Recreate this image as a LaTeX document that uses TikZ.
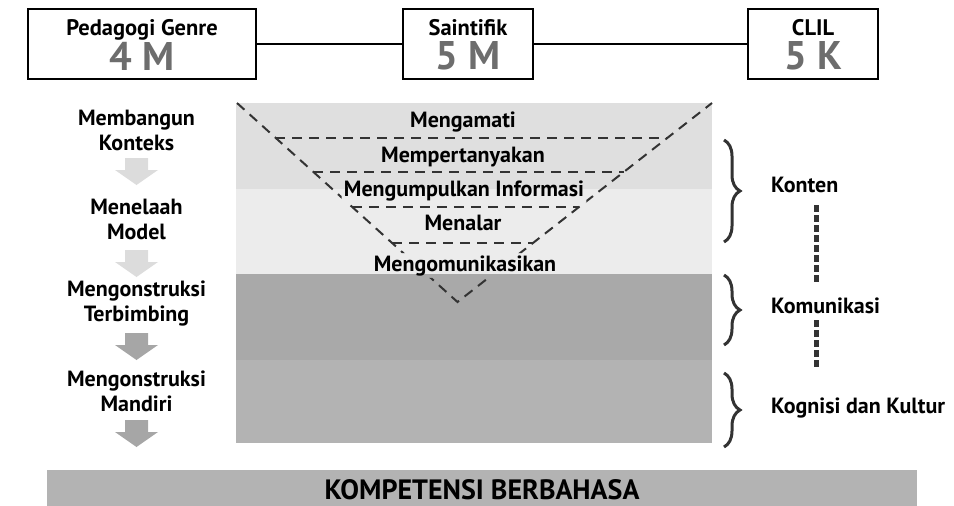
\documentclass[tikz,border=0pt]{standalone}
\usepackage{fontspec}
\setmainfont{PT Sans}
\usetikzlibrary{decorations.pathreplacing,calc}
\definecolor{bandA}{HTML}{DFDFDF}
\definecolor{bandB}{HTML}{ECECEC}
\definecolor{bandC}{HTML}{A9A9A9}
\definecolor{bandD}{HTML}{B3B3B3}
\definecolor{arrA}{HTML}{DCDCDC}
\definecolor{arrB}{HTML}{A6A6A6}
\definecolor{numgray}{HTML}{6D6D6D}
\definecolor{darkline}{HTML}{333333}
\begin{document}
\begin{tikzpicture}[x=1pt,y=-1pt,
  topbox/.style={draw=black, line width=2.2pt, fill=white, minimum width=130, minimum height=70, inner sep=0},
  ttl/.style={anchor=base, inner sep=0, font=\bfseries\fontsize{22.5}{24}\selectfont},
  num/.style={anchor=center, inner sep=0, text=numgray, font=\bfseries\fontsize{40}{42}\selectfont},
  conn/.style={line width=2pt, black},
  lt/.style={align=center, inner sep=0, font=\bfseries\fontsize{22}{25}\selectfont},
  tt/.style={anchor=base, inner sep=2pt, font=\bfseries\fontsize{22}{24}\selectfont},
  tri/.style={darkline, line width=2pt, dash pattern=on 10pt off 7pt},
  br/.style={decorate, decoration={brace, amplitude=16pt}, line width=3pt, darkline},
  rl/.style={anchor=base west, inner sep=0, font=\bfseries\fontsize{22}{24}\selectfont},
  vdash/.style={darkline, line width=5pt, dash pattern=on 7pt off 3pt},
  dnarrow/.pic={\fill[#1] (-11.5,0) -- (11.5,0) -- (11.5,12) -- (21.5,12) -- (0,27) -- (-21.5,12) -- (-11.5,12) -- cycle;}
]
\useasboundingbox (0,0) rectangle (954,506);

% top boxes
\node[topbox, minimum width=228] (b1) at (142,44) {};
\node[topbox] (b2) at (468,44) {};
\node[topbox] (b3) at (813,44) {};
\draw[conn] (b1) -- (b2);
\draw[conn] (b2) -- (b3);
\node[ttl] (t1) at (142,35) {Pedagogi Genre};
\node[num] (n1) at (142,56) {4 M};
\node[ttl] (t2) at (468,35) {Saintifik};
\node[num] (n2) at (468,56) {5 M};
\node[ttl] (t3) at (813,35) {CLIL};
\node[num] (n3) at (813,56) {5 K};

% bands
\fill[bandA] (236,103) rectangle (712,189);
\fill[bandB] (236,189) rectangle (712,274);
\fill[bandC] (236,274) rectangle (712,360);
\fill[bandD] (236,360) rectangle (712,443);

% stage texts
\node[tt] (s1) at (463,127) {Mengamati};
\node[tt] (s2) at (463,162) {Mempertanyakan};
\node[tt] (s3) at (464,196) {Mengumpulkan Informasi};
\node[tt] (s4) at (463,230) {Menalar};
\node[tt] (s5) at (465,271) {Mengomunikasikan};

% triangle (kept clear of the texts)
\begin{scope}[even odd rule]
\clip (0,0) rectangle (954,506)
  (s1.south west) rectangle (s1.north east)
  (s2.south west) rectangle (s2.north east)
  (s3.south west) rectangle (s3.north east)
  (s4.south west) rectangle (s4.north east)
  (s5.south west) rectangle (s5.north east);
\coordinate (TL) at (237,103);
\coordinate (TR) at (712,103);
\coordinate (AP) at (457.5,302);
\draw[tri] (TL) -- (AP) -- (TR);
\foreach \t in {0.174,0.345,0.521,0.705}
  \draw[tri] ($(TL)!\t!(AP)$) -- ($(TR)!\t!(AP)$);
\end{scope}

% left column
\node[lt] (l1) at (136.5,130) {Membangun\\Konteks};
\node[lt] (l2) at (136.5,219) {Menelaah\\Model};
\node[lt] (l3) at (136.5,304) {Mengonstruksi\\Terbimbing};
\node[lt] (l4) at (136.5,391) {Mengonstruksi\\Mandiri};
\pic at (136.5,158) {dnarrow=arrA};
\pic at (136.5,250) {dnarrow=arrA};
\pic at (136.5,333) {dnarrow=arrB};
\pic at (136.5,420) {dnarrow=arrB};

% braces
\draw[br] (724,140) -- (724,242);
\draw[br] (724,275) -- (724,345);
\draw[br] (724,373) -- (724,447);

% right labels
\node[rl] (k1) at (771,192) {Konten};
\node[rl] (k2) at (771,313) {Komunikasi};
\node[rl] (k3) at (771,413) {Kognisi dan Kultur};
\coordinate (v1) at (816,205);
\coordinate (v2) at (816,283);
\coordinate (v3) at (816,320);
\coordinate (v4) at (816,368);
\draw[vdash] (v1) -- (v2);
\draw[vdash] (v3) -- (v4);

% bottom bar
\node[fill=bandD, minimum width=870, minimum height=36, inner sep=0] (bar) at (482,488) {};
\node[inner sep=0, font=\bfseries\fontsize{28}{30}\selectfont] (kb) at (482,490) {KOMPETENSI BERBAHASA};
\end{tikzpicture}
\end{document}
